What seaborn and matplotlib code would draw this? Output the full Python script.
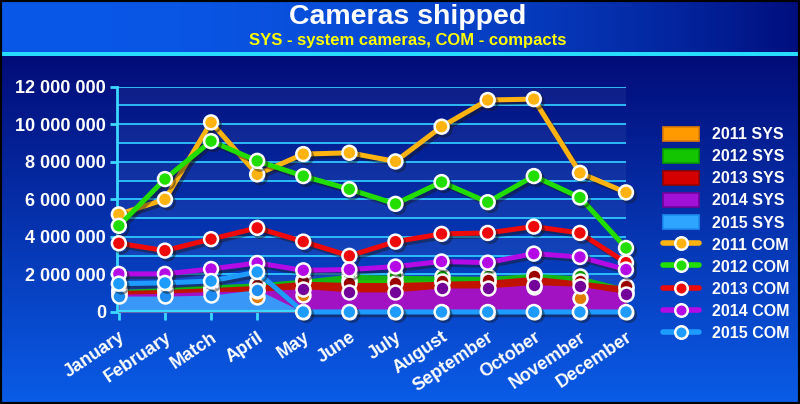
import numpy as np
import matplotlib
matplotlib.use("Agg")
import matplotlib.pyplot as plt
import matplotlib.patheffects as pe
from matplotlib.patches import Patch, Rectangle
from matplotlib.lines import Line2D
from matplotlib.ticker import FuncFormatter
import seaborn as sns

# --- data (units shipped) ---
months = ["January", "February", "Match", "April", "May", "June", "July",
          "August", "September", "October", "November", "December"]

com_2011 = [5.20, 6.00, 10.10, 7.33, 8.41, 8.48, 8.02, 9.87, 11.29, 11.34, 7.41, 6.37]
com_2012 = [4.59, 7.08, 9.10, 8.05, 7.24, 6.54, 5.76, 6.92, 5.85, 7.24, 6.10, 3.41]
com_2013 = [3.66, 3.27, 3.88, 4.48, 3.75, 2.99, 3.75, 4.16, 4.21, 4.55, 4.21, 2.63]
com_2014 = [2.03, 2.03, 2.29, 2.61, 2.22, 2.26, 2.42, 2.69, 2.63, 3.11, 2.93, 2.26]
com_2015 = [1.51, 1.55, 1.65, 2.13, 0, 0, 0, 0, 0, 0, 0, 0]

sys_2011 = [1.05, 1.10, 1.20, 0.78, 0.89, 1.70, 1.72, 1.62, 1.62, 1.35, 0.77, 1.05]
sys_2012 = [1.20, 1.30, 1.45, 1.55, 1.75, 2.01, 1.96, 1.92, 1.90, 2.05, 1.92, 1.30]
sys_2013 = [1.15, 1.20, 1.30, 1.42, 1.64, 1.57, 1.57, 1.64, 1.69, 1.90, 1.65, 1.37]
sys_2014 = [0.95, 1.00, 1.10, 1.10, 1.25, 1.07, 1.07, 1.28, 1.28, 1.46, 1.37, 0.98]
sys_2015 = [0.85, 0.85, 0.90, 1.19, 0, 0, 0, 0, 0, 0, 0, 0]

years = ["2011", "2012", "2013", "2014", "2015"]
com_series = [com_2011, com_2012, com_2013, com_2014, com_2015]
sys_series = [sys_2011, sys_2012, sys_2013, sys_2014, sys_2015]

line_colors = ["#FFB311", "#22DD00", "#EE0A0A", "#B40AE6", "#1E9BFF"]
area_colors = ["#FF9A00", "#13C400", "#D40000", "#A012D8", "#2EA6FF"]
dark_colors = ["#E07A00", "#0A9A00", "#9A0000", "#74009A", "#1E8CF0"]

sns.set_theme(style="white")
plt.rcParams['font.family'] = ['Liberation Sans', 'DejaVu Sans']

fig = plt.figure(figsize=(8, 4.04), dpi=100)

# background gradient
H, W = 404, 800
img = np.zeros((H, W, 3))
xs = np.linspace(0, 1, W)[None, :, None]
head_l = np.array([10, 88, 232]) / 255
head_r = np.array([0, 14, 125]) / 255
t = xs ** 2.2
img[:52] = head_l * (1 - t) + head_r * t
img[52:56] = np.array([40, 220, 255]) / 255
ys = np.linspace(0, 1, H - 56)[:, None, None]
body_t = np.array([2, 12, 120]) / 255
body_b = np.array([10, 92, 232]) / 255
img[56:] = body_t * (1 - ys) + body_b * ys
bg = fig.add_axes([0, 0, 1, 1], zorder=-10)
bg.imshow(img, extent=[0, 1, 0, 1], aspect='auto')
bg.set_axis_off()

ax = fig.add_axes([117 / 800, 1 - 312 / 404, 509 / 800, (312 - 86.7) / 404])
ax.patch.set_alpha(0)

for k in range(12):
    if k % 2 == 1:
        ax.axhspan(k * 1e6, (k + 1) * 1e6, color='white', alpha=0.05, lw=0, zorder=0)
for k in range(1, 13):
    ax.axhline(k * 1e6, color='#2FC6FF', lw=1.3, zorder=1)

x = np.arange(len(months))

for i, vals in enumerate(sys_series):
    v = np.array(vals) * 1e6
    ax.fill_between(x, 0, v, color=area_colors[i], alpha=0.9, lw=0, zorder=2)
for i, vals in enumerate(sys_series):
    v = np.array(vals) * 1e6
    ax.plot(x, v, 'o', mfc=dark_colors[i], mec='white', ms=10, mew=1.8,
            zorder=3, clip_on=False)

ax.axhline(0, color='#3CD8FF', lw=3, zorder=4)

shadow = [pe.SimpleLineShadow(offset=(2, -2), alpha=0.45), pe.Normal()]
for i, vals in enumerate(com_series):
    v = np.array(vals) * 1e6
    sns.lineplot(x=x, y=v, ax=ax, color=line_colors[i], lw=3.6, marker='o',
                 markersize=10, markerfacecolor=line_colors[i],
                 markeredgecolor='white', markeredgewidth=1.8,
                 zorder=5 + i, clip_on=False, path_effects=shadow, legend=False)

ax.set_xlim(-0.04, 11)
ax.set_ylim(0, 12e6)
ax.set_xticks(x)
ax.set_xticklabels(months, rotation=34, ha='right', rotation_mode='anchor',
                   fontsize=13, fontweight='bold', color='white')
ax.set_yticks(np.arange(0, 12.1e6, 2e6))
ax.yaxis.set_major_formatter(FuncFormatter(lambda v, p: f"{int(v):,}".replace(",", " ")))
for lbl in ax.get_yticklabels():
    lbl.set_fontweight('bold')
ax.tick_params(axis='x', color='#3CD8FF', length=6, width=2, pad=6, labelcolor='white', bottom=True)
ax.tick_params(axis='y', color='#3CD8FF', length=5, width=2, pad=3, labelcolor='white',
               labelsize=13, left=True)
for s in ['top', 'right', 'bottom']:
    ax.spines[s].set_visible(False)
ax.spines['left'].set_color('#3CD8FF')
ax.spines['left'].set_linewidth(2)
ax.set_xlabel('')
ax.set_ylabel('')
ax.grid(False)

# legend
handles = []
labels = []
for i, y in enumerate(years):
    handles.append(Patch(facecolor=area_colors[i], edgecolor=dark_colors[i], lw=1.2))
    labels.append(f"{y} SYS")
for i, y in enumerate(years):
    handles.append(Line2D([0], [0], color=line_colors[i], lw=4, marker='o', ms=9,
                          mfc=line_colors[i], mec='white', mew=1.8))
    labels.append(f"{y} COM")
fig.legend(handles, labels, loc='upper left', bbox_to_anchor=(0.821, 0.702),
           frameon=False, prop={'weight': 'bold', 'size': 11.5}, labelcolor='white',
           handlelength=2.25, handleheight=0.95, labelspacing=0.42, handletextpad=0.8,
           borderaxespad=0)

fig.text(0.51, 1 - 17 / 404, "Cameras shipped", ha='center', va='center',
         fontsize=20.5, fontweight='bold', color='white')
fig.text(0.51, 1 - 40 / 404, "SYS - system cameras, COM - compacts", ha='center', va='center',
         fontsize=12, fontweight='bold', color='#FFFF00')

fig.patches.append(Rectangle((0, 0), 1, 1, transform=fig.transFigure, fill=False,
                             ec='black', lw=3, zorder=20))

fig.savefig("out.png", dpi=100)
